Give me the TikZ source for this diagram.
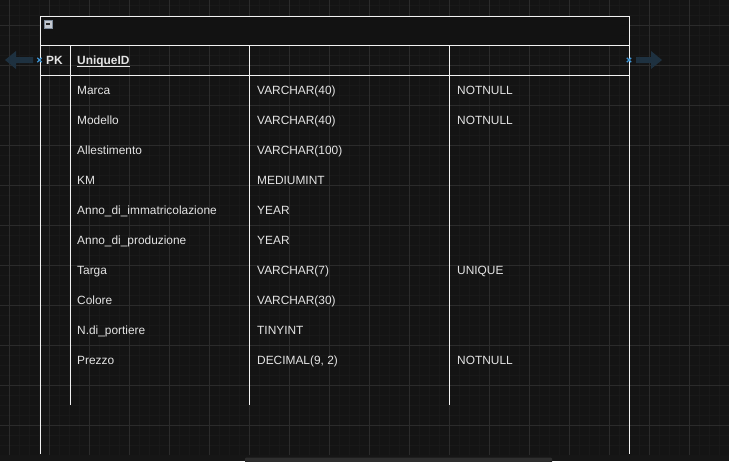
\documentclass[tikz,border=0pt]{standalone}
\usepackage{fontspec}
\setmainfont{Liberation Sans}
\definecolor{bg}{HTML}{141414}
\definecolor{gminor}{HTML}{191919}
\definecolor{gmajor}{HTML}{2B2B2B}
\definecolor{tline}{HTML}{F2F2F2}
\definecolor{txt}{HTML}{E4E4E4}
\definecolor{arrowc}{HTML}{1E3140}
\definecolor{xmark}{HTML}{3F95D4}
\definecolor{hdr}{HTML}{121212}
\definecolor{scroll}{HTML}{2E2E2E}
\definecolor{band}{HTML}{161616}
\definecolor{iconfill}{HTML}{C4C8D0}
\definecolor{iconedge}{HTML}{7D8A9A}
\tikzset{
  cell/.style={anchor=base west, inner sep=0pt, text=txt, font=\fontsize{11.9}{14}\selectfont},
  boldcell/.style={cell, font=\fontsize{11.9}{14}\selectfont\bfseries},
  tl/.style={draw=tline, line width=1pt},
  xm/.style={draw=xmark, line width=1.4pt},
  arrowshape/.style={fill=arrowc},
}
\begin{document}
\begin{tikzpicture}[x=1pt,y=-1pt]
\useasboundingbox (0,0) rectangle (729,461);
\fill[bg] (0,0) rectangle (729,461);
% grid
\foreach \i in {0,...,72} {\draw[gminor, line width=0.8pt] ({9+10*\i},0) -- ({9+10*\i},455);}
\foreach \j in {0,...,45} {\draw[gminor, line width=0.8pt] (0,{5+10*\j}) -- (729,{5+10*\j});}
\foreach \i in {0,...,18} {\draw[gmajor, line width=1pt] ({9+40*\i},0) -- ({9+40*\i},455);}
\foreach \j in {0,...,11} {\draw[gmajor, line width=1pt] (0,{25+40*\j}) -- (729,{25+40*\j});}
% bottom band and scrollbar
\fill[band] (0,455) rectangle (729,461);
\fill[scroll, rounded corners=1pt] (245,457.5) rectangle (552,463);
% header fill
\fill[hdr] (40,16) rectangle (629,45);
% table lines
\draw[tl] (40,454) -- (40,16) -- (629,16) -- (629,454);
\draw[tl] (40,45) -- (629,45);
\draw[tl] (40,75) -- (629,75);
\draw[tl] (70,45) -- (70,405);
\draw[tl] (249,45) -- (249,405);
\draw[tl] (449,45) -- (449,405);
% collapse icon
\draw[draw=iconedge, fill=iconfill, line width=0.8pt] (44,20) rectangle (52,28);
\draw[black!85, line width=1.6pt] (45.8,24) -- (50.2,24);
% side arrows
\fill[arrowshape] (5,60) -- (16,51) -- (16,57) -- (33,57) -- (33,63) -- (16,63) -- (16,69) -- cycle;
\fill[arrowshape] (662,60) -- (651,51) -- (651,57) -- (636,57) -- (636,63) -- (651,63) -- (651,69) -- cycle;
% connection markers
\coordinate (lx) at (39.5,60);
\coordinate (rx) at (629,60);
\draw[xm] ([shift={(-2.2,-2.2)}]lx) -- ([shift={(2.2,2.2)}]lx) ([shift={(-2.2,2.2)}]lx) -- ([shift={(2.2,-2.2)}]lx);
\draw[xm] ([shift={(-2.2,-2.2)}]rx) -- ([shift={(2.2,2.2)}]rx) ([shift={(-2.2,2.2)}]rx) -- ([shift={(2.2,-2.2)}]rx);
% header row
\node[boldcell] (pk) at (46,64.3) {PK};
\node[boldcell] (uid) at (77,64.3) {UniqueID};
\draw[txt, line width=1.2pt] ([yshift=-2.3pt]uid.base west) -- ([yshift=-2.3pt]uid.base east);
% rows
\foreach \n/\nm/\ty/\cs [count=\k] in {
  marca/Marca/VARCHAR(40)/NOTNULL,
  modello/Modello/VARCHAR(40)/NOTNULL,
  allest/Allestimento/VARCHAR(100)/,
  km/KM/MEDIUMINT/,
  annoimm/Anno\_di\_immatricolazione/YEAR/,
  annoprod/Anno\_di\_produzione/YEAR/,
  targa/Targa/VARCHAR(7)/UNIQUE,
  colore/Colore/VARCHAR(30)/,
  porte/N.di\_portiere/TINYINT/,
  prezzo/Prezzo/{DECIMAL(9, 2)}/NOTNULL} {
  \node[cell] (\n-name) at (77,{64.3+30*\k}) {\nm};
  \node[cell] (\n-type) at (257,{64.3+30*\k}) {\ty};
  \node[cell] (\n-cons) at (457,{64.3+30*\k}) {\cs};
}
\end{tikzpicture}
\end{document}
